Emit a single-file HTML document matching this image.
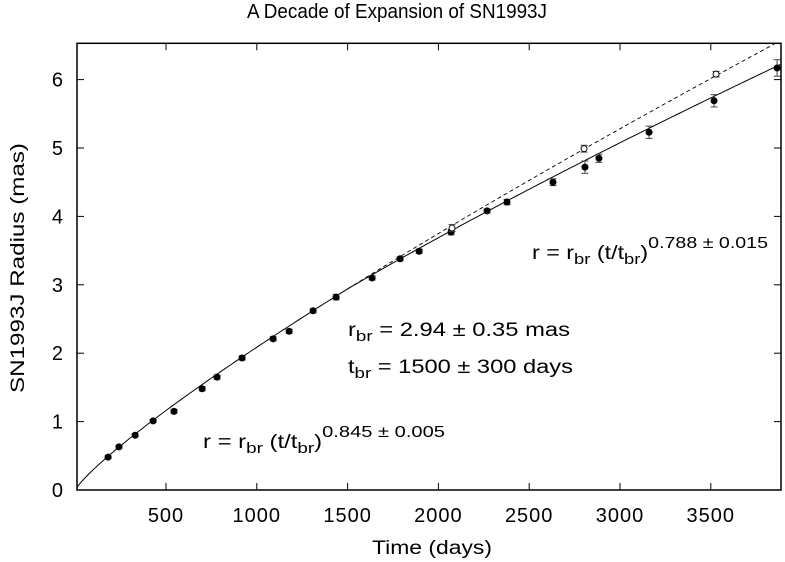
<!DOCTYPE html>
<html><head><meta charset="utf-8"><style>
body{margin:0;background:#fff}
svg{display:block;font-family:"Liberation Sans",sans-serif}
</style></head><body>
<svg id="c" width="785" height="562" viewBox="0 0 785 562">
<text x="247" y="18" font-size="20" textLength="300" lengthAdjust="spacingAndGlyphs">A Decade of Expansion of SN1993J</text>
<text transform="translate(24,268) rotate(-90)" font-size="19" text-anchor="middle" textLength="250" lengthAdjust="spacingAndGlyphs">SN1993J Radius (mas)</text>
<text x="372" y="554" font-size="19" textLength="120" lengthAdjust="spacingAndGlyphs">Time (days)</text>
<g id="ticks"></g>
<g id="lines"></g>
<g id="pts"></g>
<rect x="77" y="43.3" width="704" height="446.7" fill="none" stroke="#000" stroke-width="1.5"/>
<text x="203" y="448" font-size="19" textLength="242" lengthAdjust="spacingAndGlyphs">r  = r<tspan font-size="15" dy="5">br</tspan><tspan dy="-5"> (t/t</tspan><tspan font-size="15" dy="5">br</tspan><tspan dy="-5">)</tspan><tspan font-size="16" dy="-11">0.845 ± 0.005</tspan></text>
<text x="532" y="259" font-size="19" textLength="236" lengthAdjust="spacingAndGlyphs">r  = r<tspan font-size="15" dy="5">br</tspan><tspan dy="-5"> (t/t</tspan><tspan font-size="15" dy="5">br</tspan><tspan dy="-5">)</tspan><tspan font-size="16" dy="-11">0.788 ± 0.015</tspan></text>
<text x="348" y="336" font-size="19" textLength="222" lengthAdjust="spacingAndGlyphs">r<tspan font-size="15" dy="5">br</tspan><tspan dy="-5"> = 2.94 ± 0.35 mas</tspan></text>
<text x="348" y="373" font-size="19" textLength="225" lengthAdjust="spacingAndGlyphs">t<tspan font-size="15" dy="5">br</tspan><tspan dy="-5"> = 1500 ± 300 days</tspan></text>
</svg>
<script>
const xTicks=[500,1000,1500,2000,2500,3000,3500];
const yTicks=[0,1,2,3,4,5,6];
const tFilled=[181,241,330,429,544,699,781,919,1090,1178,1310,1437,1635,1789,1894,2070,2268,2378,2631,2807,2884,3160,3518,3865];
const rFilled=[0.48,0.63,0.80,1.01,1.15,1.48,1.65,1.93,2.21,2.32,2.62,2.82,3.10,3.38,3.49,3.77,4.08,4.21,4.50,4.72,4.85,5.23,5.69,6.17];
const eFilled=[0.02,0.02,0.02,0.02,0.03,0.03,0.03,0.03,0.03,0.03,0.03,0.04,0.03,0.03,0.03,0.04,0.03,0.04,0.05,0.09,0.06,0.09,0.09,0.12];
const tOpen=[2075,2802,3529];
const rOpen=[3.83,4.99,6.08];
const eOpen=[0.05,0.05,0.04];
const rBr=2.94, tBr=1500, aEarly=0.845, aLate=0.788;
const X0=77,X1=781,Y0=490,Y1=43.3;
const xs=t=>75.2+t*0.1816;
const ys=r=>490-r*68.4;
const NS="http://www.w3.org/2000/svg";
function mk(tag,parent,attrs){const e=document.createElementNS(NS,tag);for(const k in attrs)e.setAttribute(k,attrs[k]);parent.appendChild(e);return e;}
const gT=document.getElementById('ticks');
xTicks.forEach(v=>{
  const l=mk('line',gT,{x1:xs(v),x2:xs(v),y1:Y0,y2:Y0-7,stroke:'#000'});
  
  
  const l2=mk('line',gT,{x1:xs(v),x2:xs(v),y1:Y1,y2:Y1+7,stroke:'#000'});
  
  
  const t=mk('text',gT,{x:xs(v),y:522,'font-size':20,'letter-spacing':1,'text-anchor':'middle'});t.textContent=v;
  
  
});
yTicks.forEach(v=>{
  const l=mk('line',gT,{x1:X0,x2:X0+7,y1:ys(v),y2:ys(v),stroke:'#000'});
  
  
  const l2=mk('line',gT,{x1:X1,x2:X1-7,y1:ys(v),y2:ys(v),stroke:'#000'});
  
  
  const t=mk('text',gT,{x:63,y:ys(v)+7,'font-size':20,'text-anchor':'end'});t.textContent=v;
  
  
});
const gL=document.getElementById('lines');
const tMax=(X1-75.2)/0.1816, tMin=(X0-75.2)/0.1816;
function curve(f,from,to){let d='';for(let i=0;i<=200;i++){const t=from+(to-from)*i/200;let y=ys(f(t));if(y<Y1)break;d+=(i?'L':'M')+xs(t).toFixed(2)+','+y.toFixed(2);}return d;}
const early=t=>rBr*Math.pow(t/tBr,aEarly);
const model=t=>t<tBr?early(t):rBr*Math.pow(t/tBr,aLate);
const dash=mk('path',gL,{d:curve(early,tBr,tMax),fill:'none',stroke:'#000','stroke-width':0.9,'stroke-dasharray':'4,3'});


const sol=mk('path',gL,{d:curve(model,Math.max(tMin,0.5),tMax),fill:'none',stroke:'#000','stroke-width':1});


const gP=document.getElementById('pts');
function pt(t,r,e,filled){
  const g=mk('g',gP,{});
  
  
  const x=xs(t),y=ys(r),h=e*68.4;
  mk('line',g,{x1:x,x2:x,y1:y-h,y2:y+h,stroke:'#444'});
  mk('line',g,{x1:x-3.5,x2:x+3.5,y1:y-h,y2:y-h,stroke:'#444'});
  mk('line',g,{x1:x-3.5,x2:x+3.5,y1:y+h,y2:y+h,stroke:'#444'});
  mk('circle',g,{cx:x,cy:y,r:filled?3.5:3,fill:filled?'#000':'#fff',stroke:'#000','stroke-width':filled?0:0.9});
}
tFilled.forEach((t,i)=>pt(t,rFilled[i],eFilled[i],true));
tOpen.forEach((t,i)=>pt(t,rOpen[i],eOpen[i],false));
</script>
</body></html>
